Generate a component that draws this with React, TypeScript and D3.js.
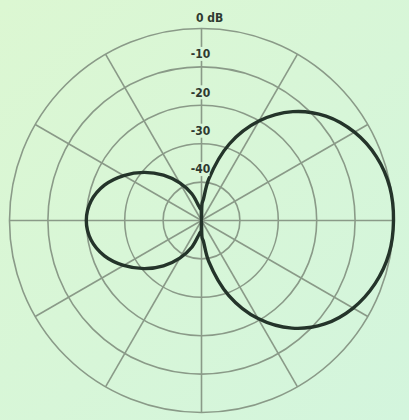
import React from "react";
import * as d3 from "d3";

// polar grid
const ringLevels = [0, -10, -20, -30, -40];
const ringLabels = ["0 dB", "-10", "-20", "-30", "-40"];
const spokeAngles = [0, 30, 60, 90, 120, 150, 180, 210, 240, 270, 300, 330];

// response, angle in degrees counter-clockwise from the right-hand axis
const patternAngles = [
  0, 10, 20, 30, 40, 50, 60, 70, 80, 85, 88, 90, 92, 95, 100, 110, 120, 130, 140, 150, 160, 170,
  180, 190, 200, 210, 220, 230, 240, 250, 260, 265, 268, 270, 272, 275, 280, 290, 300, 310, 320, 330, 340, 350,
];
const patternDb = [
  0, -0.2, -1.5, -4.0, -7.7, -13.0, -20.1, -28.8, -39.0, -44.5, -45.5, -50, -46.5, -47.0, -46.3, -42.6, -38.7, -34.6, -30.5, -26.6, -23.1, -20.8,
  -20.0, -20.8, -23.1, -26.6, -30.5, -34.6, -38.7, -42.6, -46.3, -47.0, -46.5, -50, -45.5, -44.7, -39.2, -29.2, -20.5, -13.4, -8.1, -4.4, -1.9, -0.4,
];

const W = 409;
const H = 420;
const cx = 201.5;
const cy = 220.5;
const R = 192;

export default function App() {
  const r = d3.scaleLinear().domain([-50, 0]).range([0, R]);
  const toRad = (deg: number) => (deg * Math.PI) / 180;

  const line = d3
    .lineRadial<number>()
    .angle((_, i) => Math.PI / 2 - toRad(patternAngles[i]))
    .radius((d) => r(d))
    .curve(d3.curveCatmullRomClosed.alpha(0.5));

  const gridColor = "#8a9a88";

  return (
    <svg
      width={W}
      height={H}
      style={{ position: "absolute", left: 0, top: 0 }}
      fontFamily="'DejaVu Sans Condensed', 'DejaVu Sans', sans-serif"
    >
      <defs>
        <linearGradient id="bg" x1="0" y1="0" x2="1" y2="1">
          <stop offset="0" stopColor="#dcf7d2" />
          <stop offset="1" stopColor="#d3f5dd" />
        </linearGradient>
      </defs>
      <rect width={W} height={H} fill="url(#bg)" />
      <g transform={`translate(${cx},${cy})`}>
        {ringLevels.map((db) => (
          <circle key={db} r={r(db)} fill="none" stroke={gridColor} strokeWidth={1.6} />
        ))}
        {spokeAngles.map((a) => (
          <line
            key={a}
            x1={0}
            y1={0}
            x2={R * Math.cos(toRad(a))}
            y2={-R * Math.sin(toRad(a))}
            stroke={gridColor}
            strokeWidth={1.6}
          />
        ))}
        <path
          d={line(patternDb) ?? ""}
          fill="none"
          stroke="#24342a"
          strokeWidth={3.4}
          strokeLinejoin="round"
        />
        {ringLevels.map((db, i) => {
          const y = i === 0 ? -r(db) - 11 : -r(db) - 13;
          const x = i === 0 ? 8 : -1;
          return (
            <g key={db} transform={`translate(${x},${y})`}>
              {i > 0 && <rect x={-9} y={-7} width={18} height={14} fill="#d9f6d8" />}
              <text
                textAnchor="middle"
                dy="0.36em"
                fontSize={12}
                fontWeight="bold"
                fill="#2f3a30"
              >
                {ringLabels[i]}
              </text>
            </g>
          );
        })}
      </g>
    </svg>
  );
}
